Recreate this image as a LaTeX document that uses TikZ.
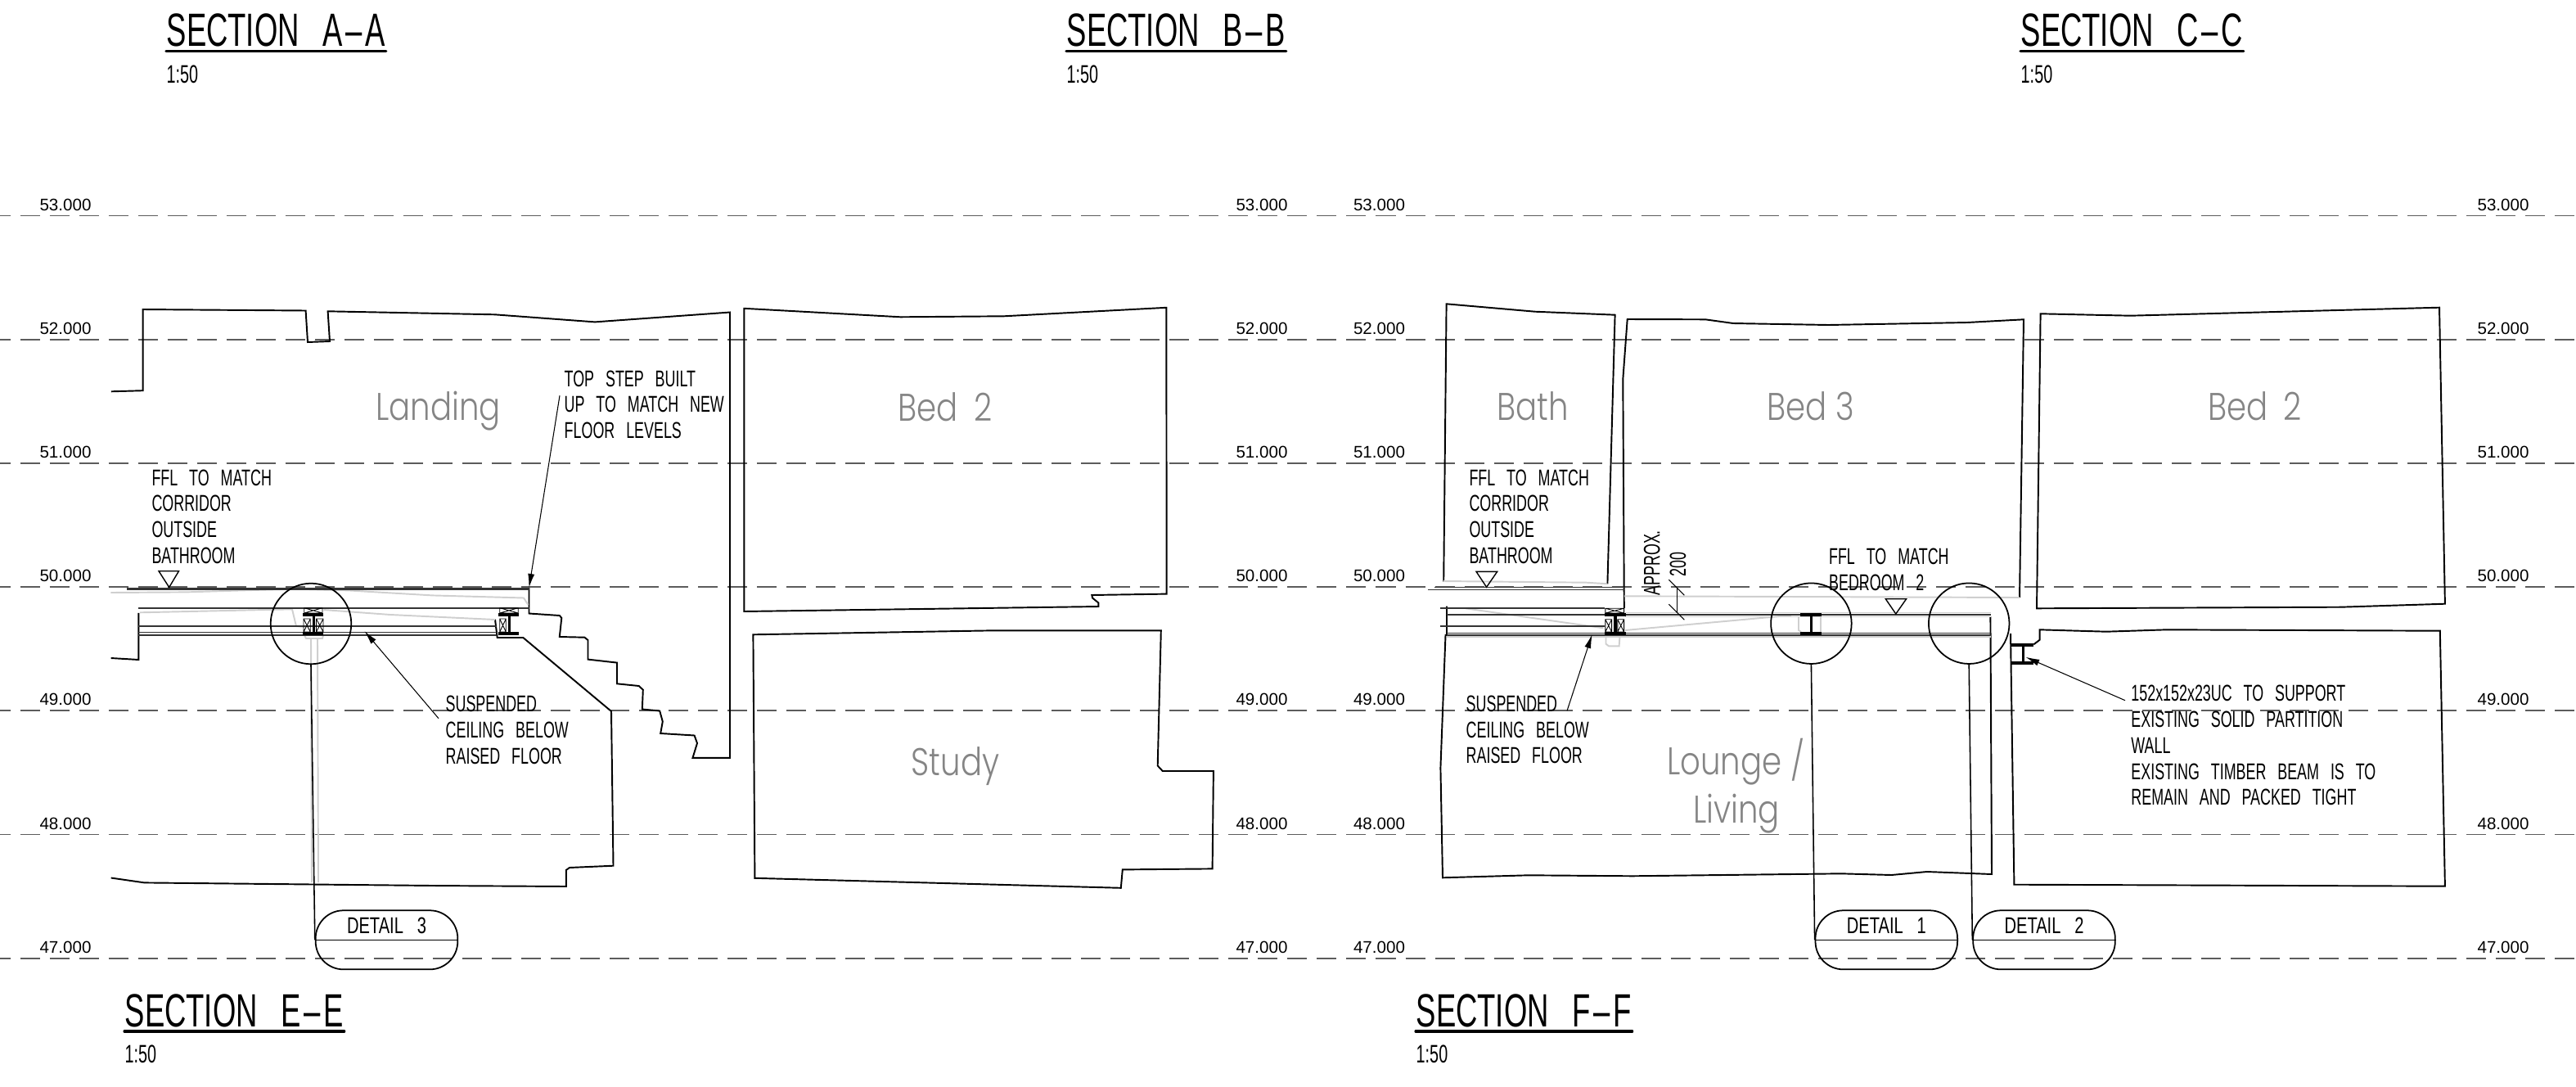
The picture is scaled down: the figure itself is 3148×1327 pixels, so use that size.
\documentclass[tikz,border=0pt]{standalone}
\usepackage{fontspec}
\usetikzlibrary{arrows.meta}
\newfontfamily\cadfont[FakeStretch=0.64,WordSpace=2.8]{Liberation Sans}
\newfontfamily\cadwide[FakeStretch=0.72,WordSpace=3]{Liberation Sans}
\newfontfamily\levelfont{Liberation Sans}
\newfontfamily\roomfont[FakeStretch=0.82,UprightFont=* Light]{Poppins}
\newcommand{\sectdash}{\kern0.04cm–\kern0.04cm}
\definecolor{datumgrey}{HTML}{5C5C5C}
\definecolor{roomgrey}{HTML}{858585}
\definecolor{ghostgrey}{HTML}{CFCFCF}
\tikzset{
    datum/.style={datumgrey, line width=0.5pt, dash pattern=on 0.24cm off 0.12cm, dash phase=0.115cm},
    wall/.style={black, line width=0.55pt, line join=miter},
    floorline/.style={black!80, line width=0.45pt},
    ghost/.style={ghostgrey, line width=0.55pt},
    leader/.style={black, line width=0.3pt},
    leadertip/.style={leader, -{Latex[length=1.7mm,width=0.8mm]}},
    levelmark/.style={font=\levelfont\fontsize{5.85}{7}\selectfont, anchor=base, inner sep=0},
    notetext/.style={font=\cadfont\fontsize{7.95}{9.02}\selectfont, inner sep=0, align=left},
    scaletext/.style={font=\cadfont\fontsize{8.8}{10}\selectfont, inner sep=0, anchor=base west},
    detailtext/.style={font=\cadwide\fontsize{7.95}{9.02}\selectfont, inner sep=0, anchor=base},
    titletext/.style={font=\cadfont\fontsize{16.2}{18}\selectfont, inner sep=0, anchor=base west},
    roomtext/.style={font=\roomfont\fontsize{13.4}{17}\selectfont, text=roomgrey, inner sep=0, anchor=base},
    detailring/.style={circle, draw, line width=0.5pt, minimum size=0.985cm, inner sep=0},
    detailpill/.style={draw, line width=0.5pt, rounded corners=0.34cm, minimum width=1.735cm, minimum height=0.72cm, inner sep=0},
    fflmark/.style={draw, line width=0.4pt}
}
\newcommand{\ibeam}[5]{% left, right, web, top, bottom
    \fill (#1,#4) rectangle (#2,#4+3.8);
    \fill (#1,#5) rectangle (#2,#5+3.8);
    \fill (#3-1.8,#4) rectangle (#3+1.8,#5);
}
\newcommand{\packer}[4]{%
    \draw[line width=0.25pt] (#1,#2) rectangle (#3,#4) (#1,#2) -- (#3,#4) (#1,#4) -- (#3,#2);
}
\begin{document}
\begin{tikzpicture}[x=0.01cm, y=-0.01cm]
    \useasboundingbox (0,0) rectangle (3148,1327);

    % Levels
    \foreach \i/\val in {0/53,1/52,2/51,3/50,4/49,5/48,6/47} {
        \draw[datum] (0,263.5+151.2*\i) -- (3148,263.5+151.2*\i);
        \foreach \x/\tag in {80/a,1542/b,1685.5/c,3059/d} {
            \node[levelmark] (lvl\val\tag) at (\x,257+151.2*\i) {\val.000};
        }
    }

    % Titles
    \foreach \x/\y/\tag/\val in {
        203/56.7/a/{SECTION A\sectdash A},
        1303/56.7/b/{SECTION B\sectdash B},
        2469/56.7/c/{SECTION C\sectdash C},
        152/1254/e/{SECTION E\sectdash E},
        1730/1254/f/{SECTION F\sectdash F}
    } {
        \node[titletext] (title\tag) at (\x,\y) {\val};
        \draw[line width=0.9pt, line cap=round] ([yshift=-0.06cm]title\tag.base west) -- ([yshift=-0.06cm]title\tag.base east);
        \node[scaletext] (scale\tag) at (\x,\y+44.5) {1:50};
    }

    % Section E
    \draw[wall] (135.8,478.3) -- (174.6,477.2) -- (174.6,378) -- (373.6,379.5) -- (376,418) -- (403,417) -- (400.6,380.3)
        -- (604.7,384.3) -- (727,393.4) -- (892,381.5) -- (892,925.8) -- (846.5,925.8) -- (852,908) -- (848.6,898.5)
        -- (807.2,896) -- (809.8,881.5) -- (806.2,868.5) -- (784.8,866.5) -- (785.8,842.8) -- (780.7,838) -- (754,835.3)
        -- (754,809.6) -- (718.5,805.6) -- (718.5,782) -- (714.4,778.7) -- (683.8,778) -- (686.3,755) -- (683.8,752)
        -- (646.5,749.5) -- (646.5,718);
    \draw[wall] (135.7,804) -- (169.4,806) -- (169.4,748.8);
    \draw[wall] (605,756.7) -- (607.7,779) -- (639.3,779) -- (747,869) -- (749.5,1057.7) -- (696,1060) -- (691.8,1063)
        -- (691.8,1083) -- (528.6,1082) -- (176.5,1078.4) -- (135.7,1072.5);
    \draw[ghost] (135.3,724) -- (227,723.4) -- (360,719.5) -- (426,721.4) -- (528,727.4) -- (640,730.5) -- (645.5,739);
    \draw[ghost] (171,748.3) -- (357,744.3) -- (362,765) -- (372.5,766);
    \draw[ghost] (395.5,745) -- (477,751) -- (605,757);
    \draw[ghost] (372,776) -- (374,780) -- (394,780) -- (395,776);
    \draw[ghost] (380,780) -- (381,1078) (388,780) -- (389,1078);
    \draw[floorline, line width=0.7pt] (154.7,719.7) -- (646.5,719.7);
    \foreach \xx/\y in {646.5/742.7, 607/765, 607/772.3, 607/776} {
        \draw[floorline] (169.4,\y) -- (\xx,\y);
    }
    \ibeam{370}{395}{383.3}{749}{772}
    \packer{371.7}{742.7}{394}{749}
    \packer{371}{756}{379.3}{772}
    \packer{386.5}{756}{395}{772}
    \ibeam{609.3}{634.3}{622.3}{749}{772}
    \packer{610.7}{742.7}{633.3}{749}
    \packer{610.7}{756}{618.3}{772}
    \draw[fflmark] (194,697.7) -- (218.5,697.7) -- (206.7,717.5) -- cycle;

    \node[roomtext] (roomlanding) at (535.7,513) {Landing};
    \node[notetext, anchor=north west] (ffle) at (184.8,573) {FFL TO MATCH\\CORRIDOR\\OUTSIDE\\BATHROOM};
    \node[notetext, anchor=north west] (notetop) at (689,452) {TOP STEP BUILT\\UP TO MATCH NEW\\FLOOR LEVELS};
    \node[notetext, anchor=north west] (noteceile) at (544,849.4) {SUSPENDED\\CEILING BELOW\\RAISED FLOOR};
    \coordinate (tiptop) at (646.5,718);
    \coordinate (tipceile) at (445.4,771);
    \draw[leadertip] ([xshift=-0.05cm,yshift=0.11cm]notetop.west) -- (tiptop);
    \draw[leadertip] ([xshift=-0.08cm,yshift=0.14cm]noteceile.west) -- (tipceile);
    \node[detailring] (ringe) at (380,762) {};
    \node[detailpill] (pille) at (472.5,1148.3) {};
    \draw[line width=0.4pt] (pille.west) -- (pille.east);
    \node[detailtext] (detaile) at (472.5,1140.4) {DETAIL 3};
    \draw[line width=0.45pt] (ringe.south) -- (pille.west);

    % Section B and the rooms beside it
    \draw[wall] (909.4,376.8) -- (1100.4,387.3) -- (1227,386.3) -- (1425.3,375.8) -- (1425.7,725.6) -- (1334.3,727)
        -- (1335,730.5) -- (1342.4,736.5) -- (1342.4,741) -- (909.4,747) -- cycle;
    \draw[wall] (920.4,775.3) -- (1214.7,770.3) -- (1418.8,770.3) -- (1414.7,935.5) -- (1420.8,942) -- (1482.9,942)
        -- (1481.6,1061.4) -- (1371.8,1062.4) -- (1369.8,1084.8) -- (922.4,1072.8) -- cycle;
    \node[roomtext] (roombedb) at (1155,514) {Bed\hspace{0.09cm} 2};
    \node[roomtext] (roomstudy) at (1167.5,947) {Study};

    % Section F
    \draw[wall] (1764.2,710.7) -- (1767.6,371.3) -- (1875.7,380.7) -- (1973.6,384.7) -- (1964.4,713.3);
    \draw[ghost] (1764.2,710) -- (1938.7,711.7) -- (1964.4,713.3);
    \draw[wall] (1984.8,743) -- (1983.3,463.3) -- (1988.7,390) -- (2084,390.3) -- (2118,395) -- (2234.4,397) -- (2404,394)
        -- (2473,390.3) -- (2468,730);
    \draw[ghost] (1984.8,728.3) -- (2468,730);
    \draw[wall] (1768,740.7) -- (1768,776) -- (1766.5,776) -- (1760.4,938.3) -- (1763,1072.3) -- (1867.6,1069.3)
        -- (1995,1070.3) -- (2250,1067.3) -- (2311.4,1069) -- (2354.8,1065) -- (2434,1068) -- (2432.4,753.3);
    \draw[wall] (2485.3,787.3) -- (2492.6,781.7) -- (2492.6,769.3) -- (2574,771.7) -- (2647.9,769.3) -- (2981.8,770.7)
        -- (2987.9,1082.7) -- (2461.4,1080.7) -- (2457,774);
    \draw[wall] (2493.6,383.3) -- (2603.4,385.7) -- (2981,375.7) -- (2987.9,737.7) -- (2860.4,741.7) -- (2489,743.3) -- cycle;
    \draw[ghost] (1791,743.3) -- (1959.4,767.3) (1986,770) -- (2189,751.7);
    \draw[ghost] (1962.5,776) -- (1962.5,786.7) -- (1966,789.3) -- (1978.6,789.3) -- (1979.6,776);
    \draw[ghost] (2198,753) -- (2198,770) -- (2201,772) (2225,753) -- (2225,772);
    \draw[ghost] (1986,748.5) -- (2433,748.5) (1986,753.5) -- (2433,753.5) (1768,778) -- (2433,778);
    \foreach \x/\xx/\y in {1744.8/1984.8/720.5, 1753/1984.8/717.5, 1760.4/1961/742.7, 1768/2433/751, 1760.4/1961/765, 1768/2433/773.3, 1768/2433/776} {
        \draw[floorline] (\x,\y) -- (\xx,\y);
    }
    \ibeam{1960.7}{1986.8}{1974}{749}{772}
    \packer{1961.8}{743.3}{1984.6}{749}
    \packer{1961.8}{756.7}{1969.6}{772}
    \packer{1976.8}{756.7}{1984.6}{772}
    \ibeam{2200}{2226}{2213.5}{749}{772}
    \ibeam{2458}{2485.3}{2472.6}{786}{808}
    \draw[fflmark] (1804,698.3) -- (1829.7,698.3) -- (1816.6,717.3) -- cycle;
    \draw[fflmark] (2304.3,731.7) -- (2329.6,731.7) -- (2316.8,750) -- cycle;
    \coordinate (dimtop) at (2049.3,717.7);
    \coordinate (dimbot) at (2049.3,748.3);
    \draw[leader] (dimtop) -- (dimbot);
    \draw[leader] (2039.3,708.2) -- (2058.3,727.2) (2039.3,738.3) -- (2058.3,757.3);

    \node[roomtext] (roombath) at (1873.5,513.3) {Bath};
    \node[roomtext] (roombedc) at (2213,513.3) {Bed 3};
    \node[roomtext] (roombedd) at (2755.5,513.3) {Bed\hspace{0.09cm} 2};
    \node[roomtext] (roomlounge) at (2121.3,946) {Lounge /};
    \node[roomtext] (roomliving) at (2122,1005) {Living};
    \node[notetext, anchor=north west] (fflf) at (1794.8,573) {FFL TO MATCH\\CORRIDOR\\OUTSIDE\\BATHROOM};
    \node[notetext, anchor=north west] (fflbed) at (2234.4,669.3) {FFL TO MATCH\\BEDROOM 2};
    \node[notetext, rotate=90, anchor=base west] (approx) at (2028.4,728.3) {APPROX.};
    \node[notetext, rotate=90, anchor=base west] (approxval) at (2060,705) {200};
    \node[notetext, anchor=north west] (noteceilf) at (1791,849.3) {SUSPENDED\\CEILING BELOW\\RAISED FLOOR};
    \node[notetext, anchor=north west] (notesteel) at (2603.7,836.7) {152x152x23UC TO SUPPORT\\EXISTING SOLID PARTITION\\WALL\\EXISTING TIMBER BEAM IS TO\\REMAIN AND PACKED TIGHT};
    \coordinate (tipceilf) at (1945.6,775);
    \coordinate (tipsteel) at (2475.3,802.7);
    \draw[leadertip] ([xshift=-0.275cm,yshift=-0.19cm]noteceilf.north east) -- (tipceilf);
    \draw[leadertip] ([xshift=-0.067cm,yshift=-0.19cm]notesteel.north west) -- (tipsteel);
    \foreach \x/\px/\tag/\val in {2213.4/2305.3/a/DETAIL 1, 2406.2/2498/b/DETAIL 2} {
        \node[detailring] (ring\tag) at (\x,761.7) {};
        \node[detailpill] (pill\tag) at (\px,1148.3) {};
        \draw[line width=0.4pt] (pill\tag.west) -- (pill\tag.east);
        \node[detailtext] (detail\tag) at (\px,1140.4) {\val};
        \draw[line width=0.45pt] (ring\tag.south) -- (pill\tag.west);
    }
\end{tikzpicture}
\end{document}
